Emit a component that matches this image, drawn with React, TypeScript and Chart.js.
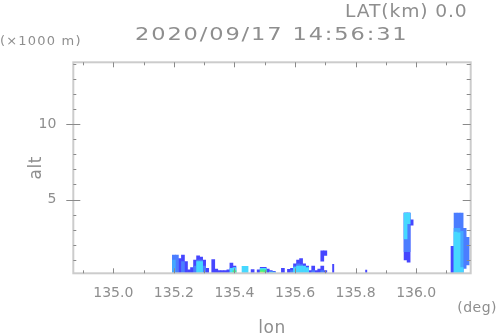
import React, { useEffect, useRef } from "react";
import { Chart, registerables } from "chart.js";
Chart.register(...registerables);

// Axis ranges and tick labels
const X_MIN = 134.868;
const X_MAX = 136.18;
const Y_MIN = 0.12;
const Y_MAX = 14.08;
const xTicks = [135.0, 135.2, 135.4, 135.6, 135.8, 136.0];
const xMinorTicks = [134.9, 135.0, 135.1, 135.2, 135.3, 135.4, 135.5, 135.6, 135.7, 135.8, 135.9, 136.0, 136.1];
const yTicks = [5, 10];
const yMinorTicks = [1, 2, 3, 4, 5, 6, 7, 8, 9, 10, 11, 12, 13, 14];

// Echo cells: [lon, altBottom, altTop] (alt in 1000 m), one list per reflectivity level
type Cell = [number, number, number];
const blueCells: Cell[] = [
  [135.22, 0, 1.1], [135.23, 0, 1.33], [135.24, 0, 0.9], [135.25, 0, 0.35],
  [135.26, 0, 0.5], [135.27, 0, 1.0], [135.28, 0, 1.28], [135.29, 0, 1.2], [135.30, 0, 1.0], [135.31, 0, 0.45],
  [135.33, 0, 1.02], [135.34, 0, 0.4], [135.35, 0, 0.3], [135.36, 0, 0.3], [135.37, 0, 0.3], [135.38, 0, 0.35],
  [135.39, 0, 0.8], [135.40, 0, 0.6], [135.46, 0, 0.36],
  [135.48, 0, 0.35], [135.49, 0, 0.52], [135.50, 0, 0.52], [135.51, 0, 0.4], [135.52, 0, 0.3], [135.53, 0, 0.25],
  [135.56, 0, 0.45], [135.58, 0, 0.38], [135.59, 0, 0.45], [135.60, 0, 0.75], [135.61, 0, 1.0], [135.62, 0, 1.09],
  [135.63, 0, 0.75], [135.64, 0, 0.6], [135.65, 0, 0.3], [135.66, 0, 0.6], [135.67, 0, 0.3],
  [135.68, 0, 0.4], [135.69, 0, 0.6], [135.70, 0, 0.3], [135.69, 0.93, 1.6], [135.70, 1.3, 1.6],
  [135.965, 1.0, 4.1], [135.975, 0.85, 4.1], [135.985, 3.3, 3.65],
  [136.12, 0, 1.9],
];
const medBlueCells: Cell[] = [
  [135.20, 0, 1.33], [135.21, 0, 1.33], [135.23, 0, 0.9],
  [135.27, 0, 0.6], [135.28, 0, 1.0], [135.29, 0, 1.0], [135.30, 0, 0.6],
  [135.59, 0, 0.3], [135.60, 0, 0.6], [135.61, 0, 0.75], [135.62, 0, 0.7], [135.66, 0, 0.3], [135.69, 0, 0.3],
  [135.965, 1.55, 4.1], [135.975, 1.55, 4.1],
  [136.13, 0, 4.1], [136.14, 0, 4.1], [136.15, 0, 4.1], [136.16, 0.45, 3.1], [136.17, 0.67, 2.5],
];
const lightBlueCells: Cell[] = [
  [135.20, 0, 1.0],
  [136.13, 0, 3.1], [136.14, 0, 3.1], [136.15, 0, 2.9],
];
const cyanCells: Cell[] = [
  [135.28, 0, 0.9], [135.29, 0, 0.9], [135.39, 0, 0.45], [135.40, 0, 0.5],
  [135.43, 0, 0.58], [135.44, 0, 0.58], [135.49, 0, 0.45], [135.50, 0, 0.45], [135.52, 0, 0.22], [135.53, 0, 0.2],
  [135.60, 0, 0.5], [135.61, 0, 0.6], [135.62, 0, 0.6], [135.63, 0, 0.6], [135.64, 0, 0.5],
  [135.965, 2.4, 4.1], [135.975, 3.4, 4.1],
  [136.13, 0, 2.85], [136.14, 0, 2.8], [136.15, 0, 0.5],
];
const greenCells: Cell[] = [[135.40, 0, 0.3], [135.49, 0, 0.35], [135.50, 0, 0.35]];
const yellowCells: Cell[] = [[135.49, 0, 0.2]];
const thinCells: Cell[] = [[135.726, 0, 0.72], [135.835, 0, 0.34]];

const layers: { cells: Cell[]; color: string; thin?: boolean }[] = [
  { cells: blueCells, color: "#4646ff" },
  { cells: thinCells, color: "#4646ff", thin: true },
  { cells: medBlueCells, color: "#4b7dff" },
  { cells: lightBlueCells, color: "#44a8ff" },
  { cells: cyanCells, color: "#46d8ff" },
  { cells: greenCells, color: "#44f08c" },
  { cells: yellowCells, color: "#d8f040" },
];

const TEXT = "#8e8e8e";
const FONT = "'DejaVu Sans', sans-serif";

const framePlugin = {
  id: "frame",
  afterDatasetsDraw(chart: any) {
    const { ctx, chartArea: a, scales } = chart;
    const x = scales.x, y = scales.y;
    ctx.save();
    ctx.strokeStyle = "#cccccc";
    ctx.lineWidth = 2;
    ctx.strokeRect(a.left, a.top, a.right - a.left, a.bottom - a.top);
    ctx.strokeStyle = "#8a8a8a";
    ctx.lineWidth = 1;
    ctx.beginPath();
    for (const v of xMinorTicks) {
      const major = xTicks.some((t) => Math.abs(t - v) < 1e-6);
      const px = Math.round(x.getPixelForValue(v)) + 0.5;
      const len = major ? 5 : 3;
      ctx.moveTo(px, a.bottom); ctx.lineTo(px, a.bottom - len);
      ctx.moveTo(px, a.top); ctx.lineTo(px, a.top + len);
    }
    for (const v of yMinorTicks) {
      const major = yTicks.some((t) => Math.abs(t - v) < 1e-6);
      const py = Math.round(y.getPixelForValue(v)) + 0.5;
      if (major) {
        ctx.moveTo(a.left - 7, py); ctx.lineTo(a.left + 7, py);
        ctx.moveTo(a.right, py); ctx.lineTo(a.right - 8, py);
      } else {
        ctx.moveTo(a.left, py); ctx.lineTo(a.left + 3, py);
        ctx.moveTo(a.right, py); ctx.lineTo(a.right - 4, py);
      }
    }
    ctx.stroke();
    ctx.restore();
  },
  afterDraw(chart: any) {
    const { ctx, chartArea: a } = chart;
    ctx.save();
    ctx.fillStyle = TEXT;
    ctx.textBaseline = "alphabetic";
    const put = (t: string, size: number, xx: number, yy: number, align: CanvasTextAlign, ls: number, sx = 1) => {
      ctx.save();
      ctx.font = `${size}px ${FONT}`;
      (ctx as any).letterSpacing = `${ls}px`;
      ctx.textAlign = align;
      ctx.translate(xx, yy);
      ctx.scale(sx, 1);
      ctx.fillText(t, 0, 0);
      ctx.restore();
    };
    put("LAT(km) 0.0", 17, 345, 17, "left", 0.8, 1.1);
    put("(\u00d71000 m)", 13, 0, 45, "left", 1.2);
    put("2020/09/17 14:56:31", 18, 135, 39.5, "left", 1.5, 1.25);
    put("lon", 17, (a.left + a.right) / 2, 333, "center", 0.5);
    put("(deg)", 14, 497, 312, "right", 0.5);
    ctx.translate(41, (a.top + a.bottom) / 2);
    ctx.rotate(-Math.PI / 2);
    put("alt", 17, 0, 0, "center", 0.5);
    ctx.restore();
  },
};

export default function App() {
  const ref = useRef<HTMLCanvasElement>(null);
  useEffect(() => {
    const canvas = ref.current;
    if (!canvas) return;
    const datasets = layers.map((l, i) => ({
      type: "bar" as const,
      data: l.cells.map((c) => ({ x: c[0], y: [c[1], c[2]] })),
      backgroundColor: l.color,
      borderWidth: 0,
      grouped: false,
      categoryPercentage: 1,
      barPercentage: 1,
      ...(l.thin ? { barThickness: 1.3 } : {}),
      order: layers.length - i,
      clip: 0,
    }));
    const chart = new Chart(canvas, {
      type: "bar",
      data: { datasets: datasets as any },
      options: {
        animation: false,
        responsive: false,
        devicePixelRatio: 1,
        layout: { padding: { left: 0, top: 62.3, right: 27.3, bottom: 0 } },
        plugins: { legend: { display: false }, tooltip: { enabled: false } },
        scales: {
          x: {
            type: "linear",
            min: X_MIN,
            max: X_MAX,
            offset: false,
            grid: { display: false, offset: false },
            border: { display: false },
            afterBuildTicks: (s: any) => { s.ticks = xTicks.map((v) => ({ value: v })); },
            afterFit: (s: any) => { s.height = 62.7; },
            ticks: {
              color: TEXT,
              font: { family: FONT, size: 14 },
              padding: 4,
              maxRotation: 0,
              autoSkip: false,
              callback: (v: any) => Number(v).toFixed(1),
            },
          },
          y: {
            type: "linear",
            min: Y_MIN,
            max: Y_MAX,
            grid: { display: false },
            border: { display: false },
            afterBuildTicks: (s: any) => { s.ticks = yTicks.map((v) => ({ value: v })); },
            afterFit: (s: any) => { s.width = 73.3; },
            ticks: {
              color: TEXT,
              font: { family: FONT, size: 14 },
              padding: 9,
              autoSkip: false,
              callback: (v: any) => String(v),
            },
          },
        },
      },
      plugins: [framePlugin],
    });
    return () => chart.destroy();
  }, []);
  return (
    <div style={{ position: "fixed", left: 0, top: 0, width: 498, height: 336, background: "#fff" }}>
      <canvas ref={ref} width={498} height={336} style={{ display: "block", width: 498, height: 336 }} />
    </div>
  );
}
